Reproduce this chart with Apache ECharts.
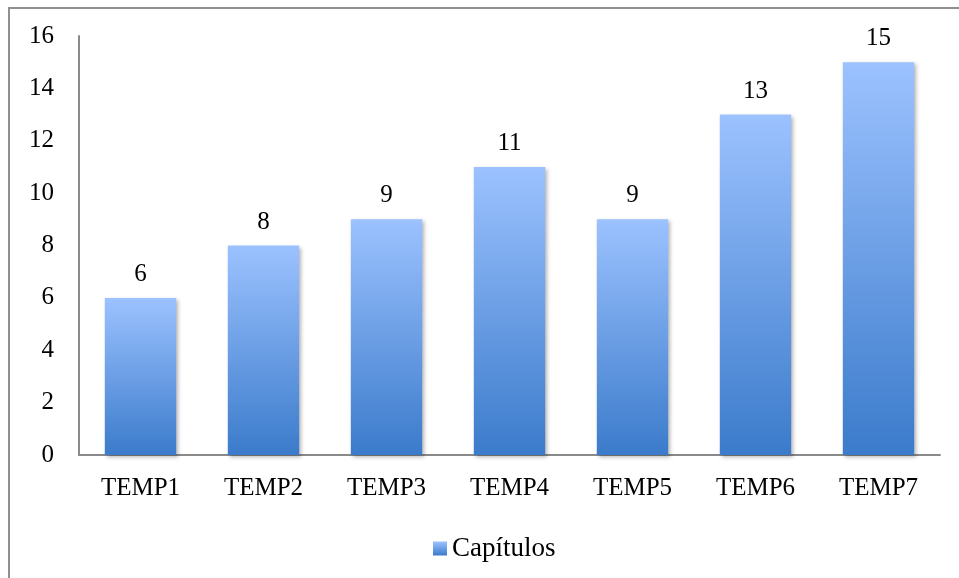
<!DOCTYPE html>
<html>
<head>
<meta charset="utf-8">
<script src="https://cdn.jsdelivr.net/npm/echarts@6/dist/echarts.min.js"></script>
<style>
  html, body { margin: 0; padding: 0; background: #fff; }
  #frame { position: absolute; left: 8px; top: 7px; width: 960px; height: 580px; border: 2px solid #8f8f8f; box-sizing: border-box; }
  #chart { position: absolute; left: 0; top: 0; width: 959px; height: 578px; }
</style>
</head>
<body>
<div id="frame"></div>
<div id="chart"></div>
<script>
const categories = ['TEMP1', 'TEMP2', 'TEMP3', 'TEMP4', 'TEMP5', 'TEMP6', 'TEMP7'];
const capitulos = [6, 8, 9, 11, 9, 13, 15];
const seriesName = 'Capítulos';

const fontFamily = '"Liberation Serif", "DejaVu Serif", serif';
const fontSize = 25;
const textColor = '#000';

const barGradient = new echarts.graphic.LinearGradient(0, 0, 0, 1, [
  { offset: 0, color: '#9cc2ff' },
  { offset: 1, color: '#3b7bcb' }
]);

const chart = echarts.init(document.getElementById('chart'), null, { renderer: 'canvas' });
chart.setOption({
  backgroundColor: 'transparent',
  animation: false,
  grid: { left: 79, right: 19, top: 36, bottom: 123, containLabel: false },
  legend: {
    data: [{ name: seriesName, icon: 'rect' }],
    top: 530,
    left: 428,
    itemWidth: 14,
    itemHeight: 14,
    itemGap: 6,
    textStyle: { fontFamily: fontFamily, fontSize: 27, color: textColor }
  },
  xAxis: {
    type: 'category',
    data: categories,
    axisLine: { lineStyle: { color: '#8a8a8a', width: 2 } },
    axisTick: { show: false },
    axisLabel: { fontFamily: fontFamily, fontSize: fontSize, color: textColor, margin: 21 }
  },
  yAxis: {
    type: 'value',
    min: 0,
    max: 16,
    interval: 2,
    axisLine: { show: true, lineStyle: { color: '#8a8a8a', width: 2 } },
    axisTick: { show: false },
    splitLine: { show: false },
    axisLabel: { fontFamily: fontFamily, fontSize: fontSize, color: textColor, margin: 25 }
  },
  series: [{
    name: seriesName,
    type: 'bar',
    data: capitulos,
    barWidth: '58%',
    itemStyle: {
      color: barGradient,
      shadowColor: 'rgba(0,0,0,0.3)',
      shadowBlur: 4,
      shadowOffsetX: 2,
      shadowOffsetY: 2
    },
    label: {
      show: true,
      position: 'top',
      distance: 11,
      fontFamily: fontFamily,
      fontSize: fontSize,
      color: textColor
    }
  }]
});
</script>
</body>
</html>
